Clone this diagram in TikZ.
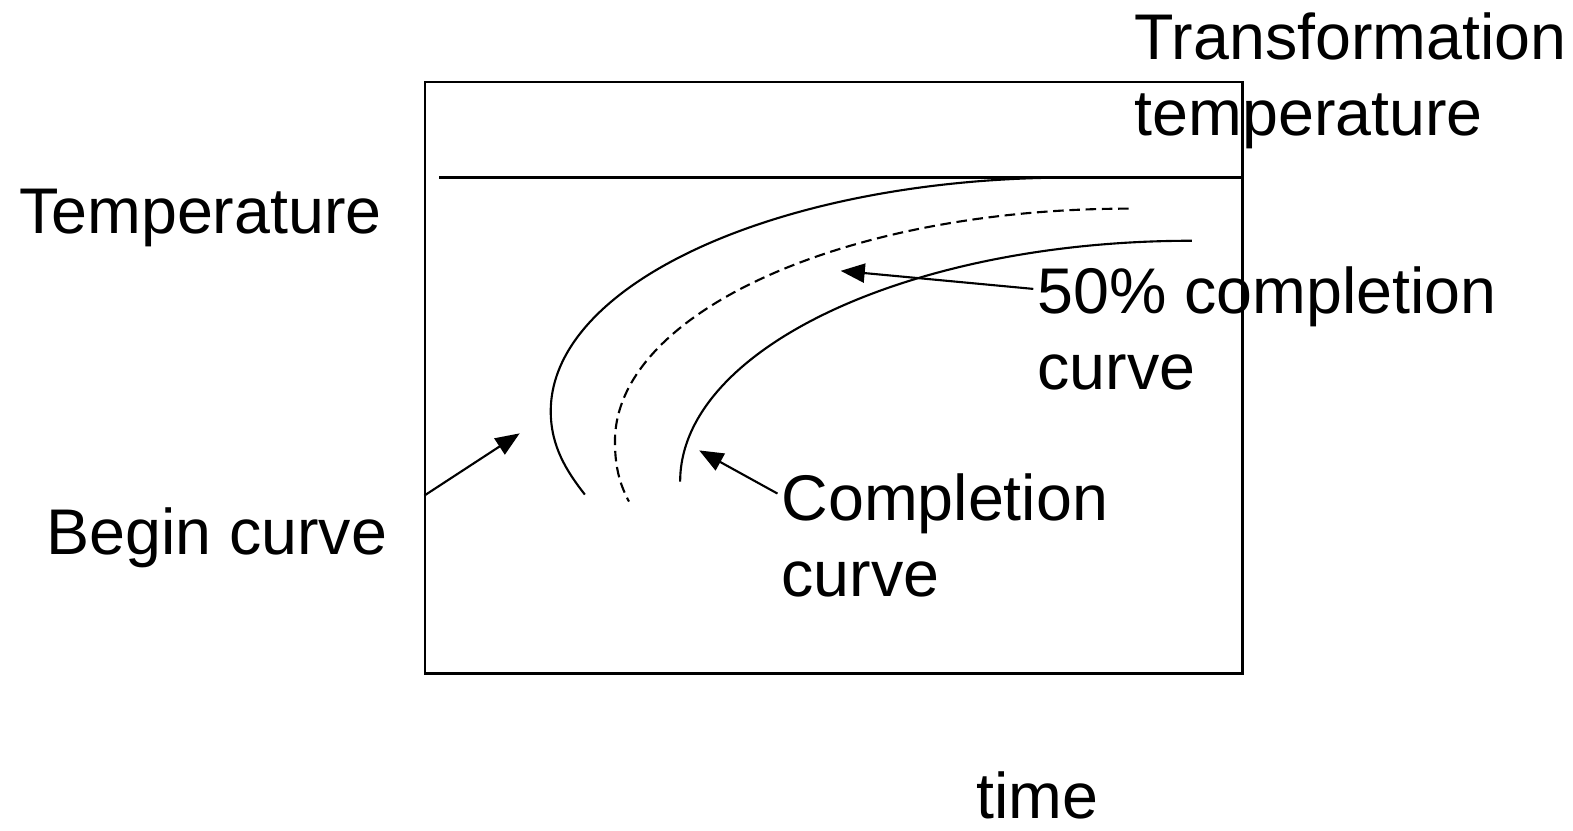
\documentclass[tikz,border=0pt]{standalone}
\usepackage{fontspec}
\setmainfont{Liberation Sans}
\usetikzlibrary{arrows.meta}
\tikzset{
  lbl/.style={inner sep=0pt, anchor=base west, align=left, font=\fontsize{18.3}{21.6}\selectfont},
  pointer/.style={-{Triangle[length=0.24cm,width=0.19cm]}},
  halfdash/.style={dash pattern=on 3pt off 1.6pt}
}
\begin{document}
\begin{tikzpicture}[x=0.01cm,y=-0.01cm,line width=0.6pt]
\useasboundingbox (0,0) rectangle (1568,828);
\node[draw, inner sep=0pt, anchor=north west, minimum width=8.14cm, minimum height=5.89cm] (frame) at (423,81) {};
\draw (438,177) -- (frame.east |- 0,177);

\draw (1068,177) .. controls (781,177) and (549,281) .. (549,410)
  .. controls (549,445) and (565,470) .. (583,493);
\draw[halfdash] (1125,208) .. controls (842,208) and (613,312) .. (613,440)
  .. controls (613,468) and (619,485) .. (627,500);
\draw (1188,240) .. controls (906,240) and (678,348) .. (678,480);

% base of a two-line label is its last line
\node[lbl] (translbl) at (1130,135) {Transformation\\temperature};
\node[lbl] (templbl) at (18,233) {Temperature};
\node[lbl] (beginlbl) at (45,553) {Begin curve};
\node[lbl] (halflbl) at (1033,388) {50\% completion\\curve};
\node[lbl] (complbl) at (778,595) {Completion\\curve};
\node[lbl] (timelbl) at (972,816) {time};

\coordinate (beginfoot) at (frame.west |- 0,494);
\coordinate (begintip) at (518,432);
\coordinate (halftip) at (838,270);
\coordinate (comptip) at (697,449);
\draw[pointer] (beginfoot) -- (begintip);
\draw[pointer] ([shift={(-3,-100)}]halflbl.base west) -- (halftip);
\draw[pointer] ([shift={(-3,-103)}]complbl.base west) -- (comptip);
\end{tikzpicture}
\end{document}
